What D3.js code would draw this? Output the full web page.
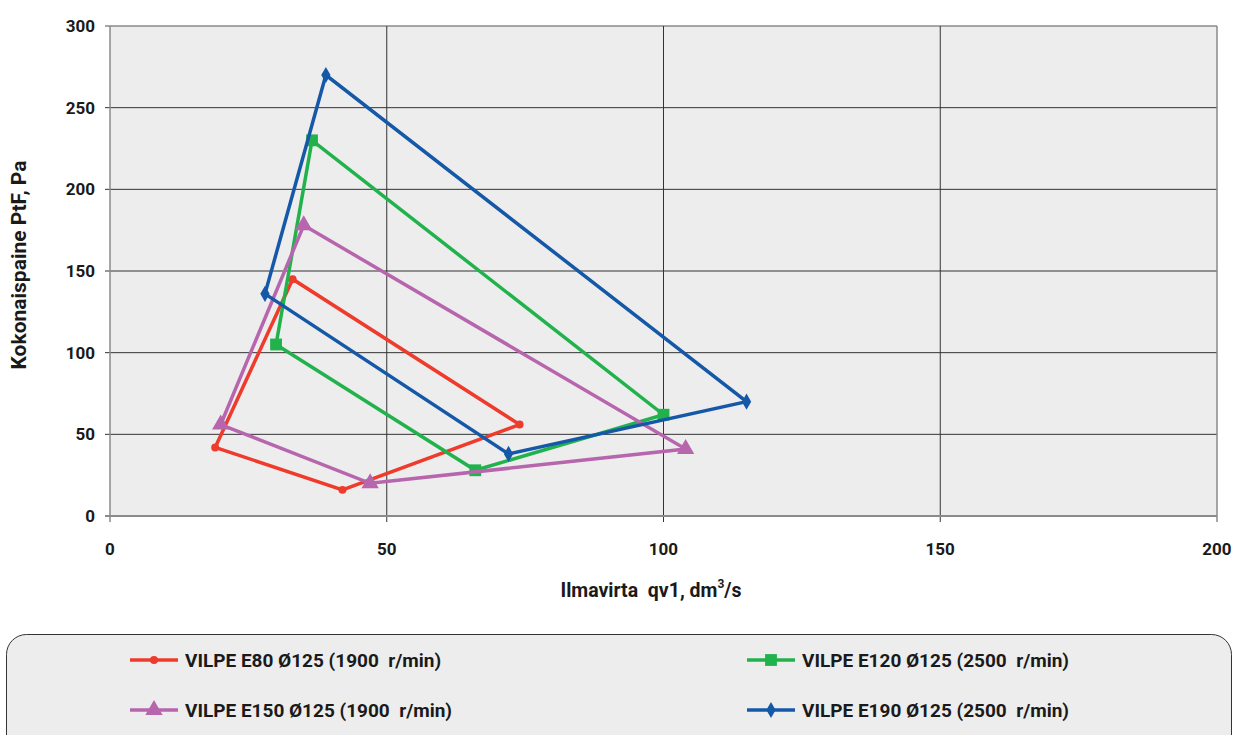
<!DOCTYPE html>
<html><head><meta charset="utf-8">
<script src="https://cdn.jsdelivr.net/npm/d3@7"></script>
<style>
html,body{margin:0;padding:0;background:#fff;}
text{font-family:Roboto,"Open Sans",sans-serif;font-weight:700;fill:#1a1a1a;white-space:pre;}
</style></head>
<body><svg id="c" width="1234" height="735"></svg>
<script>
// Data (closed loops: left, top, right, bottom, left)
const seriesNames = ["VILPE E80 Ø125 (1900  r/min)", "VILPE E120 Ø125 (2500  r/min)", "VILPE E150 Ø125 (1900  r/min)", "VILPE E190 Ø125 (2500  r/min)"];
const e80X  = [19, 33, 74, 42, 19];
const e80Y  = [42, 145, 56, 16, 42];
const e120X = [30, 36.5, 100, 66, 30];
const e120Y = [105, 230, 62, 28, 105];
const e150X = [20, 35, 104, 47, 20];
const e150Y = [56, 178, 41, 20, 56];
const e190X = [28, 39, 115, 72, 28];
const e190Y = [136, 270, 70, 38, 136];
const xTicks = [0, 50, 100, 150, 200];
const yTicks = [0, 50, 100, 150, 200, 250, 300];
const xTitle = "Ilmavirta  qv1, dm";
const yTitle = "Kokonaispaine PtF, Pa";

const colors = ["#EE3B2B", "#22B24C", "#B766AE", "#1558A8"];
const symbols = [d3.symbolCircle, d3.symbolSquare, d3.symbolTriangle, d3.symbolDiamond];
const symSizes = [50, 140, 130, 75];
const seriesX = [e80X, e120X, e150X, e190X];
const seriesY = [e80Y, e120Y, e150Y, e190Y];

const svg = d3.select("#c");
const L = 110, R = 1217, T = 26, B = 516;
const x = d3.scaleLinear().domain([0, 200]).range([L, R]);
const y = d3.scaleLinear().domain([0, 300]).range([B, T]);

svg.append("rect").attr("x", L).attr("y", T).attr("width", R - L).attr("height", B - T).attr("fill", "#EDEDED");

// grid
svg.append("g").selectAll("line").data(yTicks.filter(d => d > 0)).join("line")
  .attr("x1", L - 5).attr("x2", R).attr("y1", d => y(d)).attr("y2", d => y(d))
  .attr("stroke", d => d === 300 ? "#8a8a8a" : "#333").attr("stroke-width", d => d === 300 ? 1.5 : 1);
svg.append("g").selectAll("line").data(xTicks).join("line")
  .attr("x1", d => x(d)).attr("x2", d => x(d)).attr("y1", T).attr("y2", B + 6)
  .attr("stroke", d => (d === 0 || d === 200) ? "#8a8a8a" : "#333").attr("stroke-width", d => (d === 0 || d === 200) ? 1.5 : 1);
svg.append("line").attr("x1", L - 5).attr("x2", R).attr("y1", B).attr("y2", B).attr("stroke", "#8a8a8a").attr("stroke-width", 2);

// tick labels
svg.append("g").selectAll("text").data(yTicks).join("text")
  .attr("x", 95).attr("y", d => y(d) + 6).attr("text-anchor", "end").attr("font-size", 17).text(d => d);
svg.append("g").selectAll("text").data(xTicks).join("text")
  .attr("x", d => x(d)).attr("y", 555).attr("text-anchor", "middle").attr("font-size", 17).text(d => d);

// axis titles
const xt = svg.append("text").attr("x", 651).attr("y", 597).attr("text-anchor", "middle").attr("font-size", 19.5);
xt.append("tspan").text(xTitle);
xt.append("tspan").attr("dy", -9).attr("font-size", 12).text("3");
xt.append("tspan").attr("dy", 9).text("/s");
svg.append("text").attr("transform", "translate(26,265) rotate(-90)").attr("text-anchor", "middle").attr("font-size", 21).text(yTitle);

// series
const line = d3.line().x(d => x(d[0])).y(d => y(d[1]));
seriesX.forEach((xs, i) => {
  const pts = xs.map((v, j) => [v, seriesY[i][j]]);
  svg.append("path").attr("d", line(pts)).attr("fill", "none").attr("stroke", colors[i]).attr("stroke-width", 3.5).attr("stroke-linejoin", "miter");
  svg.append("g").selectAll("path").data(pts.slice(0, -1)).join("path")
    .attr("transform", d => `translate(${x(d[0])},${y(d[1])})`)
    .attr("d", d3.symbol().type(symbols[i]).size(symSizes[i])).attr("fill", colors[i]);
});

// legend
svg.append("rect").attr("x", 6.5).attr("y", 634.5).attr("width", 1225).attr("height", 130).attr("rx", 20)
  .attr("fill", "#EDEDED").attr("stroke", "#333").attr("stroke-width", 1);
const legPos = [[130, 660], [747, 660], [130, 710], [747, 710]];
seriesNames.forEach((n, i) => {
  const [lx, ly] = legPos[i];
  svg.append("line").attr("x1", lx).attr("x2", lx + 48).attr("y1", ly).attr("y2", ly).attr("stroke", colors[i]).attr("stroke-width", 3.5);
  svg.append("path").attr("transform", `translate(${lx + 24},${ly})`).attr("d", d3.symbol().type(symbols[i]).size(symSizes[i])).attr("fill", colors[i]);
  svg.append("text").attr("x", lx + 55).attr("y", ly + 7).attr("font-size", 19).text(n);
});
</script></body></html>
